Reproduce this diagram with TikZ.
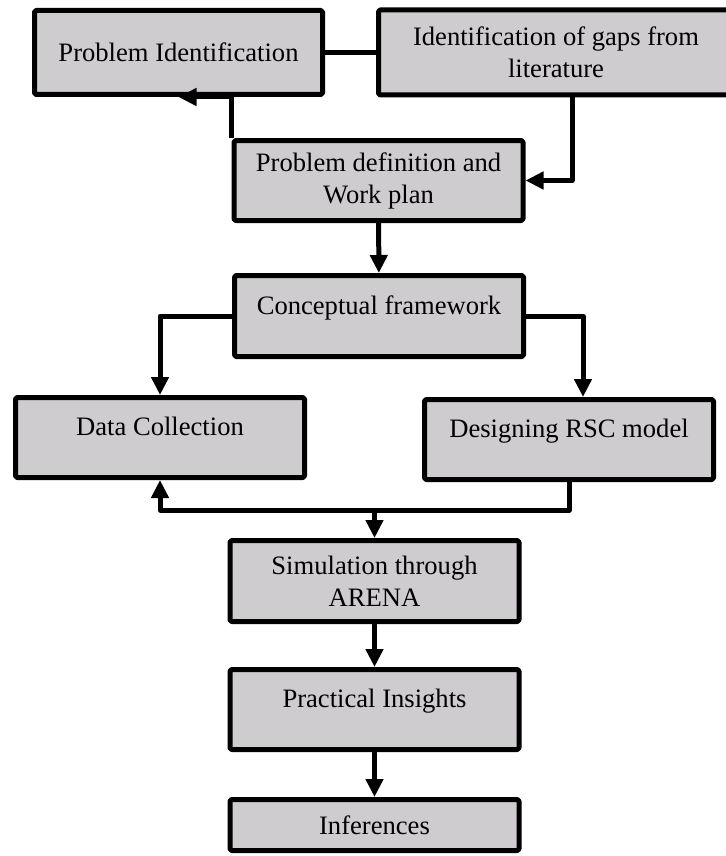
\documentclass[tikz,border=0pt]{standalone}
\usepackage{fontspec}
\setmainfont{Liberation Serif}
\usepackage{tikz}
\usetikzlibrary{shapes,arrows.meta,positioning}

\definecolor{boxgray}{RGB}{206,204,206}

\begin{document}
\begin{tikzpicture}[node distance=20pt, line width=2.5pt, line join=round,
        font=\fontsize{13.3}{16}\selectfont,
        block/.style={rectangle, draw, fill=boxgray, align=center, rounded corners=0.8pt, minimum width=144.5pt, minimum height=40.5pt},
        raised/.style={text height=6pt, text depth=7.8pt},
        arr/.style={-{Triangle[width=8.5pt,length=9pt]}}]

        \useasboundingbox (0,0) rectangle (363pt,-428pt);

        \node[block, minimum width=144pt, minimum height=42pt] (probid) at (89.25pt,-26.25pt) {Problem Identification};
        \node[block, right=25.5pt of probid, minimum width=177.5pt, minimum height=42.5pt] (gaps) {Identification of gaps from\\literature};
        \node[block, below=20.5pt of probid, xshift=100pt, minimum height=40pt] (defn) {Problem definition and\\Work plan};
        \node[block, raised, below=25pt of defn, xshift=0.25pt] (concept) {Conceptual framework};
        \node[block, raised, below=18pt of concept, xshift=-109.5pt, minimum height=40pt] (datacol) {Data Collection};
        \node[block, raised, below=19pt of concept, xshift=95pt, minimum height=40pt] (design) {Designing RSC model};
        \node[block, below=89.5pt of concept, xshift=-2.25pt] (sim) {Simulation through\\ARENA};
        \node[block, raised, below=21.5pt of sim, minimum height=40pt] (insight) {Practical Insights};
        \node[block, below=22.5pt of insight, minimum height=25.5pt] (infer) {Inferences};

        \coordinate[below=15pt of datacol.south] (merge);

        \draw (probid.east) -- (gaps.west);
        \draw[arr] (defn.north west) |- (probid.south);
        \draw[arr] ([xshift=8pt]gaps.south) |- (defn.east);
        \draw[arr] (defn) -- (concept);
        \draw[arr] (concept.west) -| (datacol.north);
        \draw[arr] (concept.east) -| ([xshift=7pt]design.north);
        \draw[arr] (design.south) |- (merge) -- (datacol.south);
        \draw[arr] (merge -| sim.north) -- (sim.north);
        \draw[arr] (sim) -- (insight);
        \draw[arr] (insight) -- (infer);
    \end{tikzpicture}
\end{document}
